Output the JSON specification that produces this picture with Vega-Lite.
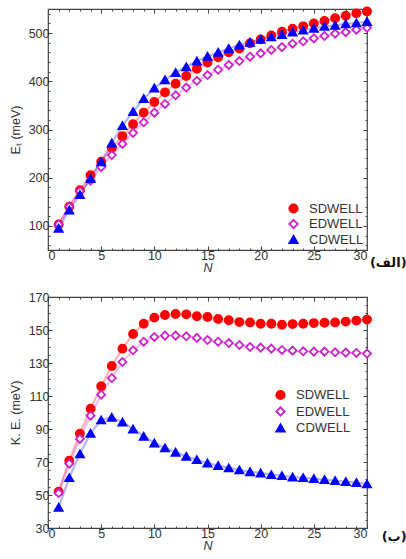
{
  "$schema": "https://vega.github.io/schema/vega-lite/v6.json",
  "background": "white",
  "padding": {"left": 8, "top": 3, "right": 0, "bottom": 0},
  "spacing": 15,
  "config": {
    "font": "Liberation Sans",
    "view": {"stroke": "#444", "strokeWidth": 1.2},
    "axis": {"grid": false, "domain": false, "tickColor": "#444", "tickWidth": 1, "tickSize": -4, "labelPadding": 3, "labelFontSize": 12.5, "labelColor": "#333", "titleFontSize": 12.5, "titleFontWeight": "normal", "titleColor": "#333", "labelFont": "Liberation Sans", "titleFont": "Liberation Sans"},
    "legend": {"labelFontSize": 13, "labelColor": "#333", "labelFont": "Liberation Sans", "title": null, "symbolSize": 70, "symbolStrokeWidth": 1.8, "labelOffset": 9}
  },
  "datasets": {
    "et": [
      {"N":1,"series":"SDWELL","v":103},{"N":2,"series":"SDWELL","v":140},{"N":3,"series":"SDWELL","v":174},{"N":4,"series":"SDWELL","v":205},{"N":5,"series":"SDWELL","v":233},{"N":6,"series":"SDWELL","v":262},{"N":7,"series":"SDWELL","v":286},{"N":8,"series":"SDWELL","v":311},{"N":9,"series":"SDWELL","v":335},{"N":10,"series":"SDWELL","v":357},{"N":11,"series":"SDWELL","v":377},{"N":12,"series":"SDWELL","v":395},{"N":13,"series":"SDWELL","v":411},{"N":14,"series":"SDWELL","v":426},{"N":15,"series":"SDWELL","v":439},{"N":16,"series":"SDWELL","v":450},{"N":17,"series":"SDWELL","v":460},{"N":18,"series":"SDWELL","v":468},{"N":19,"series":"SDWELL","v":479},{"N":20,"series":"SDWELL","v":487},{"N":21,"series":"SDWELL","v":495},{"N":22,"series":"SDWELL","v":503},{"N":23,"series":"SDWELL","v":509},{"N":24,"series":"SDWELL","v":514},{"N":25,"series":"SDWELL","v":520},{"N":26,"series":"SDWELL","v":525},{"N":27,"series":"SDWELL","v":531},{"N":28,"series":"SDWELL","v":536},{"N":29,"series":"SDWELL","v":541},{"N":30,"series":"SDWELL","v":545},
      {"N":1,"series":"EDWELL","v":103},{"N":2,"series":"EDWELL","v":140},{"N":3,"series":"EDWELL","v":172},{"N":4,"series":"EDWELL","v":194},{"N":5,"series":"EDWELL","v":222},{"N":6,"series":"EDWELL","v":247},{"N":7,"series":"EDWELL","v":270},{"N":8,"series":"EDWELL","v":293},{"N":9,"series":"EDWELL","v":315},{"N":10,"series":"EDWELL","v":335},{"N":11,"series":"EDWELL","v":353},{"N":12,"series":"EDWELL","v":371},{"N":13,"series":"EDWELL","v":387},{"N":14,"series":"EDWELL","v":401},{"N":15,"series":"EDWELL","v":413},{"N":16,"series":"EDWELL","v":424},{"N":17,"series":"EDWELL","v":434},{"N":18,"series":"EDWELL","v":442},{"N":19,"series":"EDWELL","v":451},{"N":20,"series":"EDWELL","v":458},{"N":21,"series":"EDWELL","v":465},{"N":22,"series":"EDWELL","v":471},{"N":23,"series":"EDWELL","v":478},{"N":24,"series":"EDWELL","v":483},{"N":25,"series":"EDWELL","v":489},{"N":26,"series":"EDWELL","v":494},{"N":27,"series":"EDWELL","v":499},{"N":28,"series":"EDWELL","v":502},{"N":29,"series":"EDWELL","v":507},{"N":30,"series":"EDWELL","v":511},
      {"N":1,"series":"CDWELL","v":95},{"N":2,"series":"CDWELL","v":133},{"N":3,"series":"CDWELL","v":165},{"N":4,"series":"CDWELL","v":198},{"N":5,"series":"CDWELL","v":233},{"N":6,"series":"CDWELL","v":272},{"N":7,"series":"CDWELL","v":308},{"N":8,"series":"CDWELL","v":337},{"N":9,"series":"CDWELL","v":364},{"N":10,"series":"CDWELL","v":386},{"N":11,"series":"CDWELL","v":403},{"N":12,"series":"CDWELL","v":418},{"N":13,"series":"CDWELL","v":430},{"N":14,"series":"CDWELL","v":442},{"N":15,"series":"CDWELL","v":452},{"N":16,"series":"CDWELL","v":460},{"N":17,"series":"CDWELL","v":468},{"N":18,"series":"CDWELL","v":475},{"N":19,"series":"CDWELL","v":481},{"N":20,"series":"CDWELL","v":487},{"N":21,"series":"CDWELL","v":492},{"N":22,"series":"CDWELL","v":497},{"N":23,"series":"CDWELL","v":502},{"N":24,"series":"CDWELL","v":506},{"N":25,"series":"CDWELL","v":510},{"N":26,"series":"CDWELL","v":514},{"N":27,"series":"CDWELL","v":516},{"N":28,"series":"CDWELL","v":519},{"N":29,"series":"CDWELL","v":521},{"N":30,"series":"CDWELL","v":524}
    ],
    "ke": [
      {"N":1,"series":"SDWELL","v":52},{"N":2,"series":"SDWELL","v":70.8},{"N":3,"series":"SDWELL","v":87.2},{"N":4,"series":"SDWELL","v":102.3},{"N":5,"series":"SDWELL","v":115.9},{"N":6,"series":"SDWELL","v":128.2},{"N":7,"series":"SDWELL","v":138.7},{"N":8,"series":"SDWELL","v":147.6},{"N":9,"series":"SDWELL","v":153.8},{"N":10,"series":"SDWELL","v":157.5},{"N":11,"series":"SDWELL","v":159.1},{"N":12,"series":"SDWELL","v":159.7},{"N":13,"series":"SDWELL","v":159.5},{"N":14,"series":"SDWELL","v":158.3},{"N":15,"series":"SDWELL","v":157.9},{"N":16,"series":"SDWELL","v":156.7},{"N":17,"series":"SDWELL","v":155.9},{"N":18,"series":"SDWELL","v":154.8},{"N":19,"series":"SDWELL","v":154.6},{"N":20,"series":"SDWELL","v":153.8},{"N":21,"series":"SDWELL","v":153.8},{"N":22,"series":"SDWELL","v":153.2},{"N":23,"series":"SDWELL","v":153.6},{"N":24,"series":"SDWELL","v":153.8},{"N":25,"series":"SDWELL","v":154.2},{"N":26,"series":"SDWELL","v":154.4},{"N":27,"series":"SDWELL","v":154.6},{"N":28,"series":"SDWELL","v":155.1},{"N":29,"series":"SDWELL","v":155.7},{"N":30,"series":"SDWELL","v":156.3},
      {"N":1,"series":"EDWELL","v":51.2},{"N":2,"series":"EDWELL","v":69},{"N":3,"series":"EDWELL","v":84},{"N":4,"series":"EDWELL","v":98.1},{"N":5,"series":"EDWELL","v":110.8},{"N":6,"series":"EDWELL","v":120.9},{"N":7,"series":"EDWELL","v":130.6},{"N":8,"series":"EDWELL","v":137.7},{"N":9,"series":"EDWELL","v":142.9},{"N":10,"series":"EDWELL","v":145.8},{"N":11,"series":"EDWELL","v":146.6},{"N":12,"series":"EDWELL","v":146.6},{"N":13,"series":"EDWELL","v":146.2},{"N":14,"series":"EDWELL","v":145.2},{"N":15,"series":"EDWELL","v":143.9},{"N":16,"series":"EDWELL","v":142.9},{"N":17,"series":"EDWELL","v":142.1},{"N":18,"series":"EDWELL","v":140.9},{"N":19,"series":"EDWELL","v":139.7},{"N":20,"series":"EDWELL","v":139.3},{"N":21,"series":"EDWELL","v":138.7},{"N":22,"series":"EDWELL","v":137.9},{"N":23,"series":"EDWELL","v":137.5},{"N":24,"series":"EDWELL","v":137.1},{"N":25,"series":"EDWELL","v":136.9},{"N":26,"series":"EDWELL","v":136.9},{"N":27,"series":"EDWELL","v":136.5},{"N":28,"series":"EDWELL","v":136.3},{"N":29,"series":"EDWELL","v":136.1},{"N":30,"series":"EDWELL","v":135.7},
      {"N":1,"series":"CDWELL","v":42.5},{"N":2,"series":"CDWELL","v":60.5},{"N":3,"series":"CDWELL","v":74.9},{"N":4,"series":"CDWELL","v":87.4},{"N":5,"series":"CDWELL","v":95.5},{"N":6,"series":"CDWELL","v":97.1},{"N":7,"series":"CDWELL","v":94.2},{"N":8,"series":"CDWELL","v":90},{"N":9,"series":"CDWELL","v":85.6},{"N":10,"series":"CDWELL","v":81.5},{"N":11,"series":"CDWELL","v":78.5},{"N":12,"series":"CDWELL","v":75.9},{"N":13,"series":"CDWELL","v":73.4},{"N":14,"series":"CDWELL","v":71.4},{"N":15,"series":"CDWELL","v":69.4},{"N":16,"series":"CDWELL","v":67.8},{"N":17,"series":"CDWELL","v":66.4},{"N":18,"series":"CDWELL","v":65.2},{"N":19,"series":"CDWELL","v":64.1},{"N":20,"series":"CDWELL","v":63.3},{"N":21,"series":"CDWELL","v":62.3},{"N":22,"series":"CDWELL","v":61.7},{"N":23,"series":"CDWELL","v":60.9},{"N":24,"series":"CDWELL","v":60.5},{"N":25,"series":"CDWELL","v":59.9},{"N":26,"series":"CDWELL","v":59.3},{"N":27,"series":"CDWELL","v":58.7},{"N":28,"series":"CDWELL","v":58.1},{"N":29,"series":"CDWELL","v":57.5},{"N":30,"series":"CDWELL","v":56.7}
    ]
  },
  "vconcat": [
    {
      "width": 319,
      "height": 241,
      "data": {"name": "et"},
      "title": {"text": "(الف)", "orient": "bottom", "anchor": "end", "align": "right", "baseline": "bottom", "fontSize": 13, "fontWeight": "bold", "font": "DejaVu Sans", "color": "#111", "offset": -4, "dx": 32},
      "layer": [
        {
          "mark": {"type": "line", "strokeWidth": 2.2, "strokeOpacity": 0.3},
          "encoding": {
            "x": {"field": "N", "type": "quantitative", "scale": {"domain": [0, 30], "nice": false, "zero": false}, "axis": {"orient": "bottom", "values": [0,1,2,3,4,5,6,7,8,9,10,11,12,13,14,15,16,17,18,19,20,21,22,23,24,25,26,27,28,29,30], "labelExpr": "datum.value % 5 === 0 ? datum.label : ''", "tickSize": {"condition": {"test": "datum.value % 5 === 0", "value": -4}, "value": -2}, "title": "N", "titleFontStyle": "italic", "titlePadding": 0}},
            "y": {"field": "v", "type": "quantitative", "scale": {"domain": [50, 550], "nice": false, "zero": false}, "axis": {"orient": "left", "values": [60,80,100,120,140,160,180,200,220,240,260,280,300,320,340,360,380,400,420,440,460,480,500,520,540], "labelExpr": "datum.value % 100 === 0 ? datum.label : ''", "tickSize": {"condition": {"test": "datum.value % 100 === 0", "value": -4}, "value": -2}, "title": "Eₜ  (meV)", "titlePadding": 6}},
            "stroke": {"field": "series", "type": "nominal", "sort": ["SDWELL","EDWELL","CDWELL"], "scale": {"domain": ["SDWELL","EDWELL","CDWELL"], "range": ["#ff0000","#cc22cc","#0000ff"]}, "legend": {"orient": "bottom-right", "offset": 3, "rowPadding": 1.5, "clipHeight": 13}}
          }
        },
        {
          "mark": {"type": "point", "size": 65, "strokeWidth": 1.8, "opacity": 1, "filled": false},
          "encoding": {
            "x": {"field": "N", "type": "quantitative", "axis": {"orient": "top", "values": [0,1,2,3,4,5,6,7,8,9,10,11,12,13,14,15,16,17,18,19,20,21,22,23,24,25,26,27,28,29,30], "labels": false, "title": null, "tickSize": {"condition": {"test": "datum.value % 5 === 0", "value": -4}, "value": -2}}},
            "y": {"field": "v", "type": "quantitative", "axis": {"orient": "right", "values": [60,80,100,120,140,160,180,200,220,240,260,280,300,320,340,360,380,400,420,440,460,480,500,520,540], "labels": false, "title": null, "tickSize": {"condition": {"test": "datum.value % 100 === 0", "value": -4}, "value": -2}}},
            "shape": {"field": "series", "type": "nominal", "sort": ["SDWELL","EDWELL","CDWELL"], "scale": {"domain": ["SDWELL","EDWELL","CDWELL"], "range": ["circle","diamond","triangle-up"]}, "legend": {"orient": "bottom-right", "offset": 3, "rowPadding": 1.5, "clipHeight": 13}},
            "fill": {"field": "series", "type": "nominal", "sort": ["SDWELL","EDWELL","CDWELL"], "scale": {"domain": ["SDWELL","EDWELL","CDWELL"], "range": ["#ff0000","#ffffff","#0000ff"]}, "legend": {"orient": "bottom-right", "offset": 3, "rowPadding": 1.5, "clipHeight": 13}},
            "stroke": {"field": "series", "type": "nominal", "sort": ["SDWELL","EDWELL","CDWELL"], "scale": {"domain": ["SDWELL","EDWELL","CDWELL"], "range": ["#ff0000","#cc22cc","#0000ff"]}, "legend": {"orient": "bottom-right", "offset": 3, "rowPadding": 1.5, "clipHeight": 13}}
          }
        }
      ],
      "resolve": {"axis": {"x": "independent", "y": "independent"}}
    },
    {
      "width": 319,
      "height": 231,
      "data": {"name": "ke"},
      "title": {"text": "(ب)", "orient": "bottom", "anchor": "end", "align": "right", "baseline": "bottom", "fontSize": 13, "fontWeight": "bold", "font": "DejaVu Sans", "color": "#111", "offset": -8, "dx": 32},
      "layer": [
        {
          "mark": {"type": "line", "strokeWidth": 2.2, "strokeOpacity": 0.3},
          "encoding": {
            "x": {"field": "N", "type": "quantitative", "scale": {"domain": [0, 30], "nice": false, "zero": false}, "axis": {"orient": "bottom", "values": [0,1,2,3,4,5,6,7,8,9,10,11,12,13,14,15,16,17,18,19,20,21,22,23,24,25,26,27,28,29,30], "labelExpr": "datum.value % 5 === 0 ? datum.label : ''", "tickSize": {"condition": {"test": "datum.value % 5 === 0", "value": -4}, "value": -2}, "title": "N", "titleFontStyle": "italic", "titlePadding": 0}},
            "y": {"field": "v", "type": "quantitative", "scale": {"domain": [30, 170], "nice": false, "zero": false}, "axis": {"orient": "left", "values": [30,35,40,45,50,55,60,65,70,75,80,85,90,95,100,105,110,115,120,125,130,135,140,145,150,155,160,165,170], "labelExpr": "datum.value % 20 === 10 ? datum.label : ''", "tickSize": {"condition": {"test": "datum.value % 20 === 10", "value": -4}, "value": -2}, "title": "K. E.  (meV)", "titlePadding": 6}},
            "stroke": {"field": "series", "type": "nominal", "sort": ["SDWELL","EDWELL","CDWELL"], "scale": {"domain": ["SDWELL","EDWELL","CDWELL"], "range": ["#ff0000","#cc22cc","#0000ff"]}, "legend": {"orient": "none", "legendX": 226, "legendY": 91, "rowPadding": 2.5, "clipHeight": 14}}
          }
        },
        {
          "mark": {"type": "point", "size": 65, "strokeWidth": 1.8, "opacity": 1, "filled": false},
          "encoding": {
            "x": {"field": "N", "type": "quantitative", "axis": {"orient": "top", "values": [0,1,2,3,4,5,6,7,8,9,10,11,12,13,14,15,16,17,18,19,20,21,22,23,24,25,26,27,28,29,30], "labels": false, "title": null, "tickSize": {"condition": {"test": "datum.value % 5 === 0", "value": -4}, "value": -2}}},
            "y": {"field": "v", "type": "quantitative", "axis": {"orient": "right", "values": [30,35,40,45,50,55,60,65,70,75,80,85,90,95,100,105,110,115,120,125,130,135,140,145,150,155,160,165,170], "labels": false, "title": null, "tickSize": {"condition": {"test": "datum.value % 20 === 10", "value": -4}, "value": -2}}},
            "shape": {"field": "series", "type": "nominal", "sort": ["SDWELL","EDWELL","CDWELL"], "scale": {"domain": ["SDWELL","EDWELL","CDWELL"], "range": ["circle","diamond","triangle-up"]}, "legend": {"orient": "none", "legendX": 226, "legendY": 91, "rowPadding": 2.5, "clipHeight": 14}},
            "fill": {"field": "series", "type": "nominal", "sort": ["SDWELL","EDWELL","CDWELL"], "scale": {"domain": ["SDWELL","EDWELL","CDWELL"], "range": ["#ff0000","#ffffff","#0000ff"]}, "legend": {"orient": "none", "legendX": 226, "legendY": 91, "rowPadding": 2.5, "clipHeight": 14}},
            "stroke": {"field": "series", "type": "nominal", "sort": ["SDWELL","EDWELL","CDWELL"], "scale": {"domain": ["SDWELL","EDWELL","CDWELL"], "range": ["#ff0000","#cc22cc","#0000ff"]}, "legend": {"orient": "none", "legendX": 226, "legendY": 91, "rowPadding": 2.5, "clipHeight": 14}}
          }
        }
      ],
      "resolve": {"axis": {"x": "independent", "y": "independent"}}
    }
  ],
  "resolve": {"scale": {"y": "independent", "x": "independent"}}
}
